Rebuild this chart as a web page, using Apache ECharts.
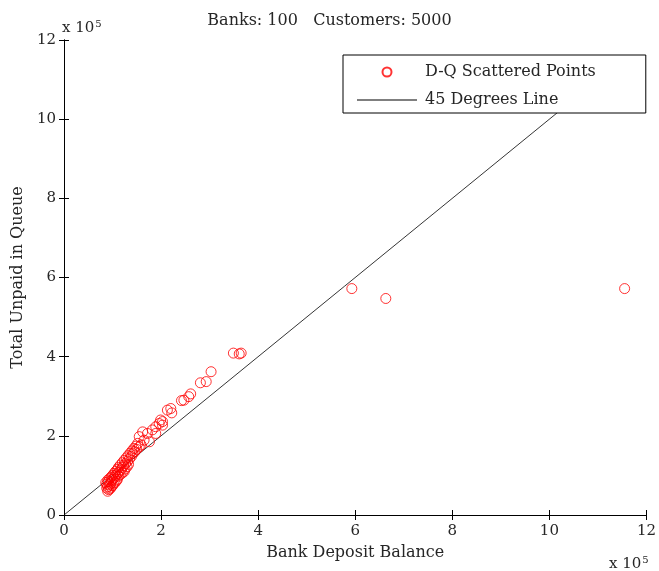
<!DOCTYPE html>
<html>
<head>
<meta charset="utf-8">
<script src="https://cdn.jsdelivr.net/npm/echarts@6/dist/echarts.min.js"></script>
<style>html,body{margin:0;padding:0;background:#fff}#c{width:659px;height:571px}</style>
</head>
<body>
<div id="c"></div>
<script>
const titleText = 'Banks: 100   Customers: 5000';
const xName = 'Bank Deposit Balance';
const yName = 'Total Unpaid in Queue';
const scatterName = 'D-Q Scattered Points';
const lineName = '45 Degrees Line';
const axisTicks = [0, 2, 4, 6, 8, 10, 12];
// values in units of 1e5
const scatterPoints = [
  [0.90,0.60],[0.92,0.64],[0.88,0.68],[0.95,0.66],[0.90,0.72],[0.97,0.70],[0.88,0.78],[0.93,0.76],[1.00,0.74],
  [0.86,0.82],[0.91,0.84],[0.96,0.80],[1.02,0.78],[0.90,0.88],[0.98,0.86],[1.05,0.82],[0.94,0.92],[1.00,0.90],
  [1.08,0.86],[0.97,0.96],[1.04,0.94],[1.10,0.90],
  [1.00,1.00],[1.06,1.00],[1.12,0.98],[1.03,1.05],[1.10,1.04],[1.16,1.02],[1.06,1.10],[1.13,1.08],[1.20,1.06],
  [1.10,1.15],[1.17,1.14],[1.24,1.10],[1.12,1.20],[1.20,1.20],[1.26,1.16],[1.16,1.26],[1.23,1.25],[1.30,1.22],
  [1.20,1.32],[1.27,1.30],[1.33,1.28],[1.24,1.38],[1.31,1.36],
  [1.28,1.44],[1.35,1.42],[1.32,1.50],[1.39,1.48],[1.36,1.56],[1.42,1.55],[1.40,1.62],[1.46,1.60],[1.44,1.68],
  [1.50,1.66],[1.48,1.74],[1.55,1.72],[1.52,1.81],[1.59,1.77],
  [1.65,1.89],[1.76,1.85],[1.55,1.98],[1.62,2.10],[1.72,2.06],[1.82,2.15],[1.89,2.06],[1.89,2.23],[1.96,2.31],
  [2.03,2.36],[1.99,2.40],[2.03,2.27],
  [2.13,2.65],[2.20,2.69],[2.22,2.58],[2.42,2.89],[2.47,2.90],[2.57,2.99],[2.61,3.06],[2.81,3.34],[2.93,3.37],
  [3.03,3.62],[3.49,4.09],[3.61,4.07],[3.65,4.09],
  [5.93,5.72],[6.63,5.47],[11.55,5.72]
];
const linePoints = [[0,0],[11.55,11.55]];

const font = 'DejaVu Serif';
const txt = '#262626';
const chart = echarts.init(document.getElementById('c'));
const baseAxis = {
  min: axisTicks[0], max: axisTicks[axisTicks.length-1], interval: axisTicks[1]-axisTicks[0],
  axisLine: {show: true, lineStyle: {color: '#000', width: 1}},
  axisTick: {show: true, inside: true, length: 5, lineStyle: {color: '#000'}},
  splitLine: {show: false},
  axisLabel: {color: txt, fontFamily: font, fontSize: 15}
};
const supText = {text: '{a|x 10}{b|5}', rich: {a: {fontFamily: font, fontSize: 15, fill: txt}, b: {fontFamily: font, fontSize: 10, fill: txt, verticalAlign: 'top', padding: [0,0,9,1]}}};
chart.setOption({
  animation: false,
  backgroundColor: '#fff',
  title: {text: titleText, left: 'center', top: 8, textStyle: {fontFamily: font, fontSize: 16, fontWeight: 'normal', color: txt}},
  grid: {left: 64, right: 6, top: 40, bottom: 56},
  xAxis: [
    Object.assign({}, baseAxis, {type: 'value', position: 'bottom', name: xName, nameLocation: 'middle', nameGap: 30,
      nameTextStyle: {fontFamily: font, fontSize: 16, color: txt}, axisLabel: Object.assign({}, baseAxis.axisLabel, {margin: 9})}),
    Object.assign({}, baseAxis, {type: 'value', position: 'top', axisLabel: {show: false}})
  ],
  yAxis: [
    Object.assign({}, baseAxis, {type: 'value', position: 'left', name: yName, nameLocation: 'middle', nameGap: 32,
      nameTextStyle: {fontFamily: font, fontSize: 16, color: txt}, axisLabel: Object.assign({}, baseAxis.axisLabel, {margin: 8})}),
    Object.assign({}, baseAxis, {type: 'value', position: 'right', axisLabel: {show: false}})
  ],
  legend: {
    orient: 'vertical', left: 343, top: 55, zlevel: 1, z: 10,
    padding: [9, 50, 5, 14], itemGap: 12, itemWidth: 60, itemHeight: 9,
    backgroundColor: '#fff', borderColor: '#000', borderWidth: 1,
    textStyle: {fontFamily: font, fontSize: 16, color: txt, padding: [0,0,0,3]},
    data: [
      {name: scatterName, icon: 'circle'},
      {name: lineName, icon: 'path://M0,0h0.01v9h-0.01zM0,4h60v1h-60z', itemStyle: {color: '#000'}}
    ]
  },
  graphic: [
    {type: 'text', left: 62, top: 19, style: supText},
    {type: 'text', left: 609, top: 555, style: supText}
  ],
  series: [
    {name: scatterName, type: 'scatter', data: scatterPoints, symbol: 'circle', symbolSize: 10, z: 3,
      itemStyle: {color: 'rgba(0,0,0,0)', borderColor: '#ff0000', borderWidth: 1}},
    {name: lineName, type: 'line', data: linePoints, symbol: 'none', z: 2, lineStyle: {color: '#000', width: 0.8},
      itemStyle: {color: '#000'}}
  ]
});
</script>
</body>
</html>
